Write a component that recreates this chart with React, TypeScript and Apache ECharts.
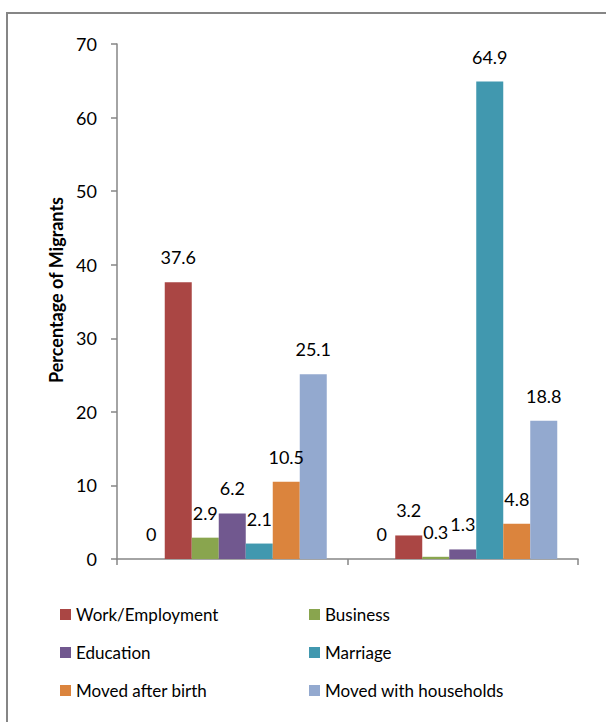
import React, { useEffect, useRef } from "react";
import * as echarts from "echarts";

const categories = ["Group 1", "Group 2"];
const yTicks = { min: 0, max: 70, interval: 10 };
const unnamedValues = [0, 0];
const workValues = [37.6, 3.2];
const businessValues = [2.9, 0.3];
const educationValues = [6.2, 1.3];
const marriageValues = [2.1, 64.9];
const afterBirthValues = [10.5, 4.8];
const householdValues = [25.1, 18.8];
const seriesNames = [
  "Work/Employment",
  "Business",
  "Education",
  "Marriage",
  "Moved after birth",
  "Moved with households",
];
const colors = ["#4F81BD", "#AA4644", "#89A54E", "#71588F", "#4198AF", "#DB843D", "#93A9CF"];
const yTitle = "Percentage of Migrants";

const FONT = "Lato, 'Noto Sans', sans-serif";

export default function App() {
  const ref = useRef<HTMLDivElement>(null);
  useEffect(() => {
    const chart = echarts.init(ref.current!, null, { renderer: "svg" });
    const allValues = [
      unnamedValues,
      workValues,
      businessValues,
      educationValues,
      marriageValues,
      afterBirthValues,
      householdValues,
    ];
    const allNames = ["Series 0", ...seriesNames];
    const series = allValues.map((vals, i) => ({
      type: "bar",
      name: allNames[i],
      data: vals,
      barGap: "0%",
      barCategoryGap: "18%",
      itemStyle: { color: colors[i] },
      label: {
        show: true,
        position: "top",
        distance: 16,
        color: "#000",
        fontSize: 18,
        fontFamily: FONT,
      },
    }));
    const legendPos = [
      { left: 60, top: 606 },
      { left: 309, top: 606 },
      { left: 60, top: 644 },
      { left: 309, top: 644 },
      { left: 60, top: 682 },
      { left: 309, top: 682 },
    ];
    const legends = seriesNames.map((n, i) => ({
      data: [n],
      left: legendPos[i].left,
      top: legendPos[i].top,
      padding: 0,
      icon: "rect",
      itemWidth: 11,
      itemHeight: 11,
      itemGap: 0,
      selectedMode: false,
      textStyle: { fontSize: 17, color: "#000", fontFamily: FONT },
    }));
    chart.setOption({
      animation: false,
      textStyle: { fontFamily: FONT },
      grid: { left: 117, right: 28, top: 44, bottom: 163, containLabel: false },
      xAxis: {
        type: "category",
        data: categories,
        axisLine: { lineStyle: { color: "#868686", width: 1.5 } },
        axisTick: { show: true, length: 6, lineStyle: { color: "#868686", width: 1.5 } },
        axisLabel: { show: false },
      },
      yAxis: {
        type: "value",
        min: yTicks.min,
        max: yTicks.max,
        interval: yTicks.interval,
        axisLine: { show: true, lineStyle: { color: "#868686", width: 1.5 } },
        axisTick: { show: true, length: 6, lineStyle: { color: "#868686", width: 1.5 } },
        splitLine: { show: false },
        axisLabel: { color: "#000", fontSize: 18, fontFamily: FONT, margin: 20 },
      },
      legend: legends,
      series,
      graphic: [
        {
          type: "rect",
          shape: { x: 7, y: 13, width: 700, height: 800 },
          style: { fill: "none", stroke: "#868686", lineWidth: 2 },
          silent: true,
        },
        {
          type: "text",
          x: 56,
          y: 290,
          rotation: Math.PI / 2,
          style: {
            text: yTitle,
            fontSize: 18,
            fontWeight: "bold",
            fontFamily: FONT,
            fill: "#000",
            align: "center",
            verticalAlign: "middle",
          },
        },
      ],
    });
    return () => chart.dispose();
  }, []);
  return (
    <div
      ref={ref}
      style={{ position: "fixed", left: 0, top: 0, width: 606, height: 722, background: "#fff" }}
    />
  );
}
